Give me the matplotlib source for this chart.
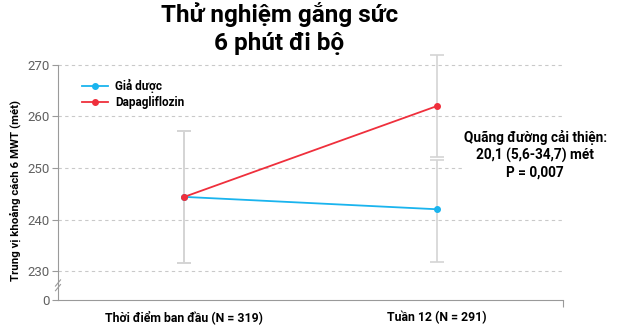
import matplotlib
matplotlib.use('Agg')
from matplotlib import pyplot as plt
from matplotlib.lines import Line2D

# Data
categories = ['Thời điểm ban đầu (N = 319)', 'Tuần 12 (N = 291)']
placebo = [244.4, 242.0]
dapa = [244.4, 262.0]
placebo_lo = [231.5, 231.8]
placebo_hi = [257.2, 251.6]
dapa_lo = [231.5, 252.2]
dapa_hi = [257.2, 271.9]
y_ticks = [230, 240, 250, 260, 270]
y_zero = 224.4  # position of the broken-axis "0"

BLUE = '#1ab4ee'
RED = '#ef2f3c'
GREY = '#9a9a9a'


def main():
    plt.rcParams['font.family'] = ['Roboto', 'DejaVu Sans']
    fig = plt.figure(figsize=(6.19, 3.32), dpi=100)
    ax = fig.add_axes([0.0937, 0.0964, 0.8158, 0.747])

    x = list(range(len(categories)))

    # Grid lines
    for t in y_ticks:
        ax.axhline(t, color='#c9c9c9', lw=0.8, ls=(0, (3, 3)), zorder=0)

    # Error bars (grey)
    for vals, lo, hi in [(placebo, placebo_lo, placebo_hi), (dapa, dapa_lo, dapa_hi)]:
        yerr = [[v - l for v, l in zip(vals, lo)], [h - v for v, h in zip(vals, hi)]]
        ax.errorbar(x, vals, yerr=yerr, fmt='none', ecolor='#d4d4d4',
                    elinewidth=1.2, capsize=5, capthick=1.2, zorder=1,
                    clip_on=False)

    ax.plot(x, placebo, color=BLUE, lw=1.3, marker='o', ms=4, zorder=3,
            label='Giả dược')
    ax.plot(x, dapa, color=RED, lw=1.3, marker='o', ms=4, zorder=4,
            label='Dapagliflozin')

    ax.set_xlim(-0.5, 1.5)
    ax.set_ylim(y_zero, 272.5)

    # Axes styling
    for s in ['top', 'right']:
        ax.spines[s].set_visible(False)
    ax.spines['left'].set_color(GREY)
    ax.spines['bottom'].set_color(GREY)
    ax.spines['left'].set_bounds(y_zero, 270)
    ax.set_yticks([y_zero] + y_ticks)
    ax.set_yticklabels(['0'] + [str(t) for t in y_ticks])
    ax.tick_params(axis='y', colors=GREY, labelcolor='#606060', labelsize=9.5,
                   length=4, width=0.8, pad=2)
    ax.set_xticks(x)
    ax.set_xticklabels(categories, fontsize=8.8, fontweight='bold')
    ax.tick_params(axis='x', length=0, pad=8)
    ax.set_xticks([1.5], minor=True)
    ax.tick_params(axis='x', which='minor', length=5, color=GREY, width=0.8)

    # Axis break marks
    for dy in (0.0, 0.9):
        ax.plot([-0.51, -0.49], [226.2 + dy, 227.4 + dy], color=GREY, lw=0.8,
                clip_on=False, zorder=5)

    ax.set_ylabel('Trung vị khoảng cách 6 MWT (mét)', fontsize=8.2,
                  fontweight='bold')
    ax.yaxis.set_label_coords(-0.073, 0.44)

    leg_handles = [
        Line2D([], [], color=BLUE, lw=1.3, marker='o', ms=4),
        Line2D([], [], color=RED, lw=1.3, marker='o', ms=4),
    ]
    ax.legend(leg_handles, ['Giả dược', 'Dapagliflozin'], loc='upper left',
              bbox_to_anchor=(0.115, 0.795), bbox_transform=fig.transFigure,
              frameon=False, handlelength=2.2, handletextpad=0.6,
              labelspacing=0.3, prop={'weight': 'bold', 'size': 8.5})

    fig.text(0.451, 0.995, 'Thử nghiệm gắng sức\n6 phút đi bộ', ha='center',
             va='top', fontsize=17.5, fontweight='bold', linespacing=1.3)

    ax.text(1.39, 252.6, 'Quãng đường cải thiện:\n20,1 (5,6-34,7) mét\nP = 0,007',
            ha='center', va='center', fontsize=9.8, fontweight='bold',
            linespacing=1.25, clip_on=False,
            bbox=dict(facecolor='white', edgecolor='none', pad=1))

    fig.savefig('out.png', dpi=100)


if __name__ == '__main__':
    main()
